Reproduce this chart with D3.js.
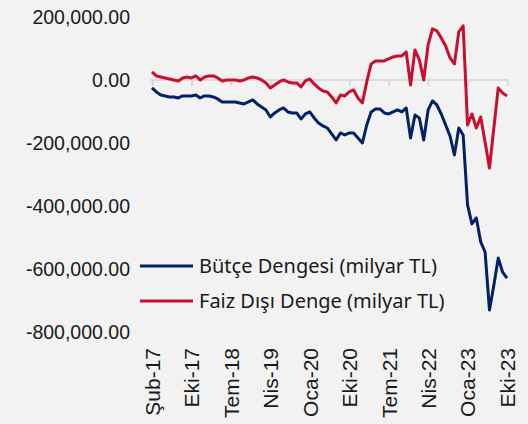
<!DOCTYPE html>
<html lang="tr">
<head>
<meta charset="UTF-8">
<script src="https://cdn.jsdelivr.net/npm/d3@7/dist/d3.min.js"></script>
<style>
  html, body { margin: 0; padding: 0; background: #f2f2f2; }
  svg { display: block; font-family: "Noto Sans", "Open Sans", sans-serif; }
  .tick text { fill: #1a1a1a; }
</style>
</head>
<body>
<svg></svg>
<script>
// Monthly series, milyar TL (first point = axis label "Şub-17", last = "Eki-23")
var butceDengesi = [
  -25400, -38000, -47600, -50700, -53900, -53900, -57000, -50700, -50700, -50700,
  -47600, -57000, -50700, -50700, -53900, -60200, -69700, -69700, -69700, -69700,
  -72900, -76100, -69700, -63400, -76100, -85600, -95100, -117300, -104600, -95100,
  -88800, -101400, -104600, -104600, -123600, -107800, -101400, -120500, -136300, -145800,
  -152200, -171200, -190200, -168000, -174400, -168000, -168000, -183900, -199700, -142700,
  -101400, -91900, -91900, -104600, -107800, -101400, -95100, -101400, -88800, -183900,
  -111000, -120500, -190200, -95100, -66600, -79300, -107800, -142700, -177500, -237800,
  -152200, -174400, -396000, -456000, -437000, -513000, -545000, -729000, -650000, -564000,
  -609000, -628000
];
var faizDisiDenge = [
  25400, 12700, 9500, 6300, 3200, 0, -3200, 6300, 9500, 6300,
  12700, 0, 9500, 12700, 12700, 6300, -3200, 0, 0, 0,
  -3200, 0, 6300, 9500, 6300, 0, -9500, -25400, -15900, -6300,
  0, -6300, -9500, -9500, -22200, -3200, 3200, -12700, -25400, -34900,
  -38000, -53900, -72900, -47600, -50700, -38000, -31700, -57000, -72900, -6300,
  50700, 60200, 60200, 60200, 66600, 72900, 76100, 76100, 88800, -15900,
  95100, 63400, 0, 111000, 161700, 155300, 133100, 107800, 69700, 50700,
  152200, 171200, -142700, -107800, -152200, -117300, -196500, -279000, -152200, -25400,
  -41200, -50700
];
var tickIndex = [0, 9, 18, 27, 36, 45, 54, 63, 72, 81];
var tickLabels = ["Şub-17", "Eki-17", "Tem-18", "Nis-19", "Oca-20", "Eki-20", "Tem-21", "Nis-22", "Oca-23", "Eki-23"];
var yTicks = [200000, 0, -200000, -400000, -600000, -800000];

var seriesNames = ["Bütçe Dengesi (milyar TL)", "Faiz Dışı Denge (milyar TL)"];
var seriesColors = ["#042263", "#c8102e"];

var W = 528, H = 424;
var svg = d3.select("svg").attr("width", W).attr("height", H);

var x = d3.scaleLinear().domain([0, butceDengesi.length - 1]).range([152, 507]);
var y = d3.scaleLinear().domain([-800000, 200000]).range([332.5, 16.8]);

// y axis labels only (plain hyphen for negatives, like the original)
var fmt = d3.format(",.2f");
var yAxis = d3.axisLeft(y).tickValues(yTicks).tickSize(0).tickPadding(0)
  .tickFormat(function(d){ return fmt(d).replace("\u2212", "-"); });
svg.append("g").attr("transform", "translate(130,0)").call(yAxis)
  .call(function(g){ g.select(".domain").remove(); })
  .selectAll("text").style("font-size", "19.5px");

// category axis line at zero
var xLine = d3.axisBottom(x).tickValues(tickIndex).tickFormat("").tickSize(6).tickSizeOuter(0);
var gx = svg.append("g").attr("transform", "translate(0," + y(0) + ")").call(xLine);
gx.select(".domain").attr("stroke", "#d4d4d4").attr("stroke-width", 1.5)
  .attr("d", "M150,0H509");
gx.selectAll(".tick line").attr("stroke", "#d4d4d4").attr("stroke-width", 1.5);

// category labels at the bottom
var xLab = d3.axisBottom(x).tickValues(tickIndex).tickSize(0)
  .tickFormat(function(d, i){ return tickLabels[i]; });
var gl = svg.append("g").attr("transform", "translate(0,348)").call(xLab);
gl.select(".domain").remove();
gl.selectAll("text")
  .attr("transform", "rotate(-90)")
  .attr("text-anchor", "end")
  .attr("x", 0).attr("y", 0).attr("dy", "0.35em")
  .style("font-size", "21px");

// lines
var line = d3.line().x(function(d, i){ return x(i); }).y(function(d){ return y(d); })
  .curve(d3.curveLinear);
[butceDengesi, faizDisiDenge].forEach(function(s, k){
  svg.append("path").datum(s)
    .attr("fill", "none")
    .attr("stroke", seriesColors[k])
    .attr("stroke-width", 3)
    .attr("stroke-linejoin", "round")
    .attr("d", line);
});

// legend
var legY = [266, 301];
seriesNames.forEach(function(n, k){
  var g = svg.append("g").attr("transform", "translate(0," + legY[k] + ")");
  g.append("line").attr("x1", 140).attr("x2", 193).attr("y1", 0).attr("y2", 0)
    .attr("stroke", seriesColors[k]).attr("stroke-width", 3);
  g.append("text").attr("x", 199).attr("y", 0).attr("dy", "0.35em")
    .style("font-size", "20px").attr("fill", "#1a1a1a").text(n);
});
</script>
</body>
</html>
